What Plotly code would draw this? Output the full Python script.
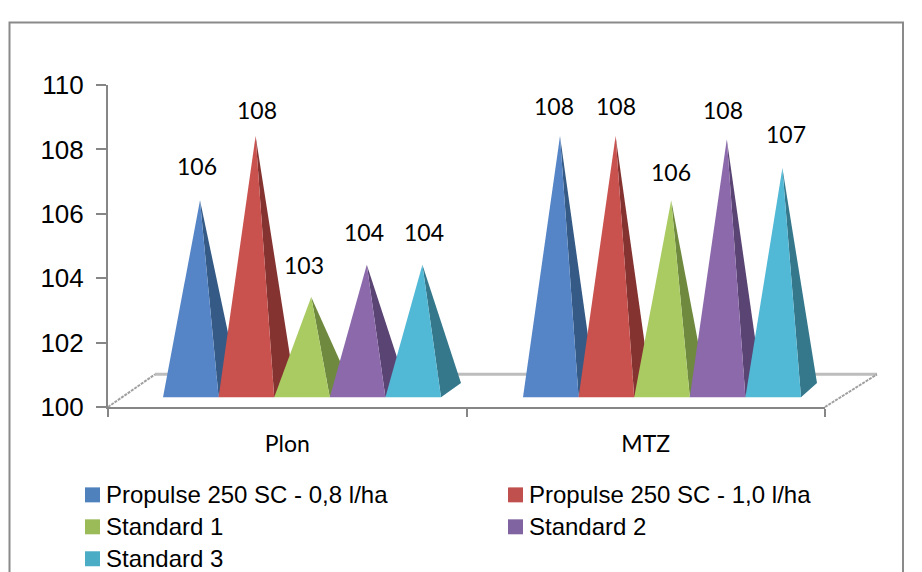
import plotly.graph_objects as go

categories = ["Plon", "MTZ"]
series_names = ["Propulse 250 SC - 0,8 l/ha", "Propulse 250 SC - 1,0 l/ha",
                "Standard 1", "Standard 2", "Standard 3"]
plon_values = [106, 108, 103, 104, 104]
mtz_values = [108, 108, 106, 107.9, 107]
front_colors = ["#5585C6", "#C9524F", "#AACB62", "#8B69AB", "#51B8D6"]
side_colors = ["#355A85", "#843330", "#6F8A3F", "#5A4473", "#35788C"]
legend_colors = ["#4F81BD", "#C0504D", "#9BBB59", "#8064A2", "#4BACC6"]
# pixel nudges of the data labels relative to the pyramid tips
plon_label_dx = [-3, 1, -7, -3, 2]
plon_label_dy = [34, 26, 32, 33, 33]
mtz_label_dx = [-6, 0, 0, -4, 4]
mtz_label_dy = [30, 30, 28, 29, 34]

W, H = 922, 572
L, R, T, B = 108, 825, 84.5, 407
PW, PH = R - L, B - T
CAT = PW / 2
UNIT = PH / 10


def px(x):
    return (x - L) / PW


def py(y):
    return (B - y) / PH


SERIES_W = 55.6 / CAT
TIP_FRAC = 37 / 55.6
GROUP_START = [55 / CAT, 415 / CAT]
DEPTH_X = [20 / CAT, 16 / CAT]
BASE_Y = 100 + 9.7 / UNIT
BACK_Y = 100 + 24 / UNIT
TIP_LIFT = 13.5 / UNIT

fig = go.Figure()

# floor of the 3D chart, below the pyramids
FLOOR_PX = 374.3
FLOOR_L, FLOOR_R = 155, 877
shapes = [
    dict(type="line", xref="paper", yref="paper", layer="below", x0=px(FLOOR_L), x1=px(FLOOR_R),
         y0=py(FLOOR_PX), y1=py(FLOOR_PX), line=dict(color="#BDBDBD", width=3)),
    dict(type="line", xref="paper", yref="paper", layer="below", x0=px(L), x1=px(FLOOR_L),
         y0=py(B), y1=py(FLOOR_PX), line=dict(color="#A0A0A0", width=2, dash="3px,1px")),
    dict(type="line", xref="paper", yref="paper", layer="below", x0=px(R), x1=px(FLOOR_R),
         y0=py(B), y1=py(FLOOR_PX), line=dict(color="#A0A0A0", width=2, dash="3px,1px")),
]

annotations = []
groups = [(plon_values, plon_label_dx, plon_label_dy), (mtz_values, mtz_label_dx, mtz_label_dy)]
for g, (values, ldx, ldy) in enumerate(groups):
    for i, v in enumerate(values):
        left = GROUP_START[g] + i * SERIES_W
        right = left + SERIES_W
        tip_x = left + TIP_FRAC * SERIES_W
        tip_y = v + TIP_LIFT
        fig.add_trace(go.Scatter(
            x=[tip_x, right, right + DEPTH_X[g], tip_x], y=[tip_y, BASE_Y, BACK_Y, tip_y],
            mode="lines", fill="toself", fillcolor=side_colors[i],
            line=dict(width=0, color=side_colors[i]), showlegend=False, hoverinfo="skip"))
        fig.add_trace(go.Scatter(
            x=[left, right, tip_x, left], y=[BASE_Y, BASE_Y, tip_y, BASE_Y],
            mode="lines", fill="toself", fillcolor=front_colors[i],
            line=dict(width=0, color=front_colors[i]), name=series_names[i],
            showlegend=False, hoverinfo="name+y"))
        annotations.append(dict(x=tip_x, y=tip_y, xref="x", yref="y", text=f"{v:.0f}",
                                showarrow=False, xshift=ldx[i], yshift=ldy[i],
                                font=dict(family="Lato", size=23, color="#000000")))

# legend
legend_x = [85, 508, 85, 508, 85]
legend_y = [495, 495, 527, 527, 559]
for i, name in enumerate(series_names):
    shapes.append(dict(type="rect", xref="paper", yref="paper",
                       x0=px(legend_x[i]), x1=px(legend_x[i] + 15),
                       y0=py(legend_y[i] - 7.5), y1=py(legend_y[i] + 7.5),
                       fillcolor=legend_colors[i], line=dict(width=0)))
    annotations.append(dict(x=px(legend_x[i] + 19), y=py(legend_y[i]), xref="paper", yref="paper",
                            text=name, showarrow=False, xanchor="left", yanchor="middle",
                            font=dict(family="Liberation Sans", size=24, color="#000000")))

# outer chart frame (open at the bottom of the picture)
shapes.append(dict(type="path", xref="paper", yref="paper",
                   path=f"M {px(9.5)},{py(590)} L {px(9.5)},{py(22)} L {px(903)},{py(22)} L {px(903)},{py(590)}",
                   line=dict(color="#8A8A8A", width=2)))

fig.update_layout(
    width=W, height=H, margin=dict(l=L, r=W - R, t=T, b=H - B, pad=0, autoexpand=False),
    paper_bgcolor="#FFFFFF", plot_bgcolor="rgba(0,0,0,0)", showlegend=False,
    shapes=shapes, annotations=annotations,
    xaxis=dict(range=[0, 2], tickvals=[0.5, 1.5], ticktext=categories, ticks="",
               showgrid=False, zeroline=False, showline=True, linecolor="#868686", linewidth=2,
               tickfont=dict(family="Lato", size=23, color="#000000"), ticklabelstandoff=15,
               minor=dict(tickvals=[0, 1, 2], ticks="outside", ticklen=8, tickwidth=1.5,
                          tickcolor="#868686")),
    yaxis=dict(range=[100, 110], tickvals=[100, 102, 104, 106, 108, 110],
               ticks="outside", ticklen=10, tickwidth=1.5, tickcolor="#868686",
               showgrid=False, zeroline=False, showline=True, linecolor="#868686", linewidth=2,
               tickfont=dict(family="Liberation Sans", size=26, color="#000000"),
               ticklabelstandoff=7),
)

fig.write_html("out.html", post_script="document.body.style.margin='0';",
               config={"displayModeBar": False})
